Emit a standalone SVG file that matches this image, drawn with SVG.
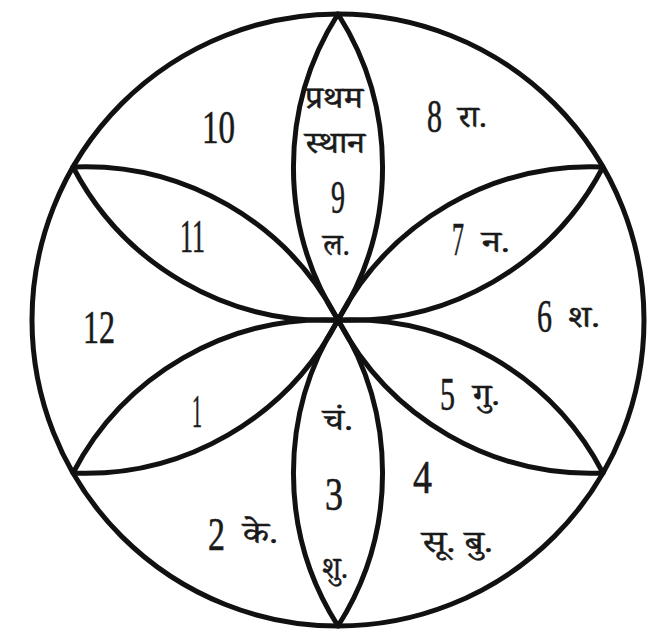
<svg xmlns="http://www.w3.org/2000/svg" width="660" height="641" viewBox="0 0 660 641">
<style>
.ln{fill:none;stroke:#111;stroke-width:5;stroke-linejoin:round}
.d{font-family:'Liberation Serif',serif;font-size:46px;fill:#1a1a1a;stroke:#1a1a1a;stroke-width:0.6}
.h{font-family:'Liberation Serif','Noto Serif Devanagari','Noto Sans Devanagari','Lohit Devanagari',serif;font-size:31px;fill:#1a1a1a;stroke:#1a1a1a;stroke-width:0.5}
</style>
<rect width="660" height="641" fill="#fff"/>
<g id="outer-circle"><circle class="ln" cx="338" cy="320" r="306"/></g>
<g id="petals">
<path id="petal-9" class="ln" d="M338 320 A285 285 0 0 1 338 14 A285 285 0 0 1 338 320Z"/>
<path id="petal-7" class="ln" d="M338 320 A285 285 0 0 1 603 167 A285 285 0 0 1 338 320Z"/>
<path id="petal-5" class="ln" d="M338 320 A285 285 0 0 1 603 473 A285 285 0 0 1 338 320Z"/>
<path id="petal-3" class="ln" d="M338 320 A285 285 0 0 1 338 626 A285 285 0 0 1 338 320Z"/>
<path id="petal-1" class="ln" d="M338 320 A285 285 0 0 1 73 473 A285 285 0 0 1 338 320Z"/>
<path id="petal-11" class="ln" d="M338 320 A285 285 0 0 1 73 167 A285 285 0 0 1 338 320Z"/>
</g>
<g id="house-9">
<text class="h" x="305" y="108" textLength="58" lengthAdjust="spacingAndGlyphs">प्रथम</text>
<text class="h" x="305" y="153" textLength="60" lengthAdjust="spacingAndGlyphs">स्थान</text>
<text class="d" x="331" y="213" textLength="14" lengthAdjust="spacingAndGlyphs">9</text>
<text class="h" x="323" y="255" textLength="27" lengthAdjust="spacingAndGlyphs">ल.</text>
</g>
<g id="house-8">
<text class="d" x="427" y="132" textLength="15" lengthAdjust="spacingAndGlyphs">8</text>
<text class="h" x="458" y="127" textLength="29" lengthAdjust="spacingAndGlyphs">रा.</text>
</g>
<g id="house-10"><text class="d" x="202" y="143" textLength="33" lengthAdjust="spacingAndGlyphs">10</text></g>
<g id="house-11"><text class="d" x="180" y="252" textLength="25" lengthAdjust="spacingAndGlyphs">11</text></g>
<g id="house-7">
<text class="d" x="452" y="255" textLength="12" lengthAdjust="spacingAndGlyphs">7</text>
<text class="h" x="482" y="252" textLength="28" lengthAdjust="spacingAndGlyphs">न.</text>
</g>
<g id="house-6">
<text class="d" x="537" y="332" textLength="15" lengthAdjust="spacingAndGlyphs">6</text>
<text class="h" x="568" y="327" textLength="32" lengthAdjust="spacingAndGlyphs">श.</text>
</g>
<g id="house-12"><text class="d" x="83" y="343" textLength="32" lengthAdjust="spacingAndGlyphs">12</text></g>
<g id="house-1"><text class="d" x="192" y="427" textLength="10" lengthAdjust="spacingAndGlyphs">1</text></g>
<g id="house-3">
<text class="h" x="323" y="430" textLength="30" lengthAdjust="spacingAndGlyphs">चं.</text>
<text class="d" x="325" y="510" textLength="18" lengthAdjust="spacingAndGlyphs">3</text>
<text class="h" x="322" y="578" textLength="26" lengthAdjust="spacingAndGlyphs">शु.</text>
</g>
<g id="house-2">
<text class="d" x="208" y="550" textLength="17" lengthAdjust="spacingAndGlyphs">2</text>
<text class="h" x="243" y="543" textLength="35" lengthAdjust="spacingAndGlyphs">के.</text>
</g>
<g id="house-4">
<text class="d" x="413" y="493" textLength="19" lengthAdjust="spacingAndGlyphs">4</text>
<text class="h" x="422" y="552" textLength="71" lengthAdjust="spacingAndGlyphs">सू. बु.</text>
</g>
<g id="house-5">
<text class="d" x="440" y="410" textLength="15" lengthAdjust="spacingAndGlyphs">5</text>
<text class="h" x="473" y="405" textLength="27" lengthAdjust="spacingAndGlyphs">गु.</text>
</g>
</svg>
